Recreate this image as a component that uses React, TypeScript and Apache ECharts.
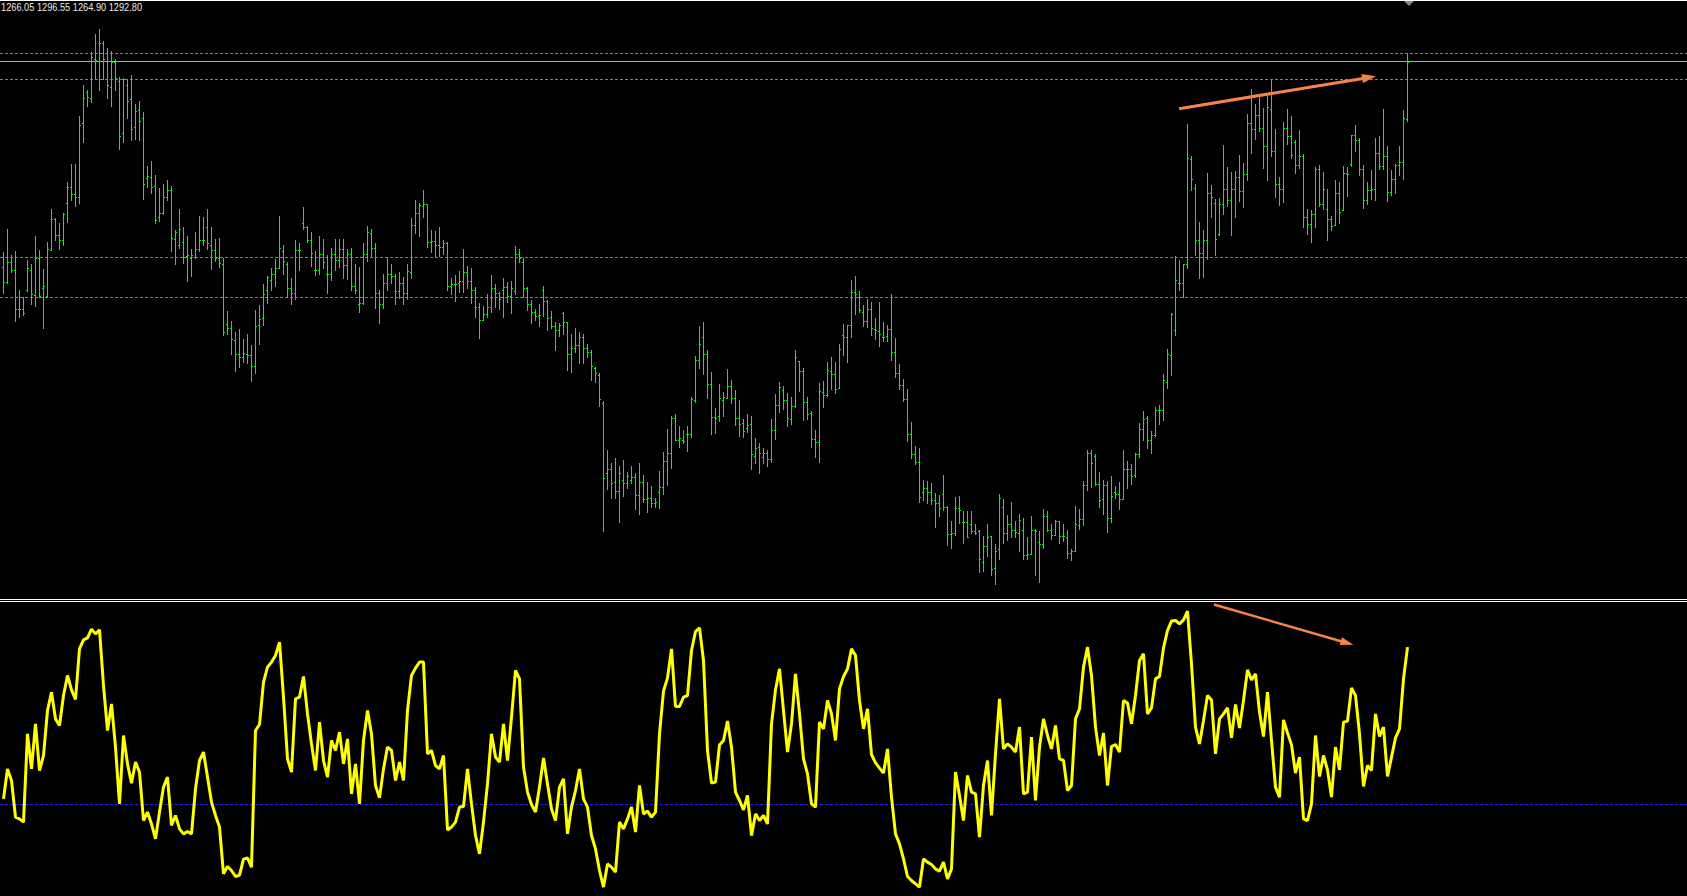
import React, { useEffect, useRef } from "react";
import * as echarts from "echarts";

const W = 1687;
const H = 896;

// ---- price bars (OHLC), one per bar index ----
const opens = [
  1196.3,1189.5,1198.6,1195.0,1176.6,1177.0,1185.6,1195.0,1183.3,1200.5,
  1186.4,1182.8,1204.4,1219.1,1211.3,1209.1,1226.3,1233.8,1230.9,1229.1,
  1263.8,1278.6,1275.9,1294.2,1293.1,1301.3,1297.0,1280.9,1292.4,1283.6,
  1259.1,1281.7,1275.0,1261.9,1270.0,1266.1,1238.0,1238.8,1234.5,1219.7,
  1221.6,1229.1,1232.5,1209.5,1207.0,1208.3,1201.7,1200.6,1201.3,1205.0,
  1209.2,1215.0,1206.9,1204.4,1200.9,1198.1,1169.7,1167.7,1162.2,1155.9,
  1154.1,1155.9,1155.3,1150.0,1169.1,1172.4,1185.9,1190.3,1193.4,1195.8,
  1203.9,1198.0,1186.4,1184.1,1204.4,1216.9,1215.3,1209.1,1195.0,1195.0,
  1202.8,1193.1,1193.1,1202.8,1199.7,1204.7,1197.2,1202.8,1187.8,1179.1,
  1179.4,1202.5,1212.5,1205.5,1184.5,1178.9,1188.8,1193.4,1192.4,1185.2,
  1189.1,1184.4,1194.2,1216.1,1221.6,1225.3,1225.9,1208.3,1208.8,1206.6,
  1205.9,1207.8,1187.5,1188.3,1188.8,1189.9,1194.1,1189.9,1185.6,1177.5,
  1171.6,1174.4,1177.5,1186.4,1184.1,1185.6,1186.9,1182.8,1185.0,1202.5,
  1198.6,1186.4,1179.1,1175.5,1173.6,1185.9,1180.6,1173.1,1168.9,1166.9,
  1174.7,1170.8,1155.5,1158.3,1159.9,1163.8,1158.3,1156.4,1148.9,1145.8,
  1132.8,1099.7,1101.6,1095.6,1091.4,1096.6,1095.0,1096.6,1098.1,1089.5,
  1095.8,1087.5,1088.4,1085.9,1090.8,1093.3,1105.5,1109.4,1125.5,1115.6,
  1115.6,1118.1,1118.4,1134.1,1152.8,1163.8,1155.5,1141.6,1126.3,1126.6,
  1134.1,1135.3,1140.6,1134.9,1125.9,1123.4,1120.8,1122.8,1107.8,1112.2,
  1107.2,1109.1,1106.3,1120.0,1131.7,1138.8,1134.1,1125.2,1131.3,1152.2,
  1147.5,1133.0,1128.1,1115.9,1114.5,1137.8,1136.3,1147.5,1146.3,1139.7,
  1164.5,1163.8,1169.1,1184.9,1182.5,1175.5,1171.1,1177.0,1167.2,1166.4,
  1163.8,1163.9,1167.2,1156.4,1146.6,1141.1,1134.4,1118.4,1108.8,1105.2,
  1091.1,1092.7,1090.8,1087.2,1085.9,1089.9,1084.1,1071.1,1071.9,1083.3,
  1077.0,1076.9,1075.9,1072.8,1072.8,1058.3,1065.8,1070.3,1055.2,1064.4,
  1084.1,1072.0,1076.2,1073.0,1072.0,1073.4,1061.3,1062.1,1073.0,1067.6,
  1066.5,1079.6,1073.4,1071.0,1077.3,1070.2,1069.9,1062.4,1063.4,1075.4,
  1078.2,1094.5,1109.3,1107.7,1094.9,1087.9,1094.1,1078.8,1091.0,1089.9,
  1087.9,1101.6,1102.0,1098.8,1109.0,1120.4,1125.9,1115.5,1117.9,1129.3,
  1129.6,1142.6,1155.4,1166.8,1189.1,1189.1,1197.7,1247.0,1233.7,1209.3,
  1203.0,1209.0,1231.2,1226.7,1212.0,1225.9,1232.9,1227.7,1233.2,1238.7,
  1232.1,1239.9,1264.2,1261.0,1267.6,1261.8,1253.2,1270.7,1250.9,1235.2,
  1232.9,1261.7,1257.9,1255.1,1244.2,1248.4,1219.9,1216.5,1221.5,1242.6,
  1225.9,1223.8,1219.2,1216.3,1231.2,1223.4,1240.6,1244.9,1258.2,1255.9,
  1242.3,1228.1,1232.7,1232.9,1250.1,1243.8,1248.4,1231.7,1237.9,1244.2,
  1245.7,1266.05,
];

const highs = [
  1203.6,1214.2,1202.0,1203.9,1185.6,1182.2,1199.7,1197.7,1210.9,1204.4,
  1195.5,1208.3,1223.6,1219.4,1217.2,1221.9,1236.1,1244.7,1244.7,1267.2,
  1282.0,1279.4,1297.2,1305.6,1308.0,1302.4,1298.9,1297.7,1293.9,1285.6,
  1284.9,1284.1,1286.4,1272.8,1274.2,1269.1,1243.9,1246.1,1239.5,1233.3,
  1235.3,1237.2,1234.5,1213.8,1223.6,1215.3,1210.9,1205.0,1212.8,1220.3,
  1220.0,1223.6,1215.3,1209.5,1209.9,1200.9,1175.9,1171.3,1165.9,1167.4,
  1162.7,1165.3,1160.0,1176.3,1178.6,1188.4,1192.2,1195.8,1200.2,1220.3,
  1206.7,1198.9,1191.4,1209.1,1207.5,1224.7,1215.9,1212.8,1204.1,1211.1,
  1209.7,1202.0,1205.2,1209.4,1209.4,1209.5,1205.0,1205.2,1198.1,1196.3,
  1207.8,1215.6,1214.5,1207.5,1185.6,1193.4,1200.6,1198.1,1193.0,1194.1,
  1191.9,1197.8,1219.4,1227.8,1226.3,1232.5,1225.9,1213.8,1213.4,1215.3,
  1209.1,1208.3,1191.4,1192.7,1194.5,1204.9,1196.9,1195.9,1187.2,1179.7,
  1178.1,1183.8,1192.5,1188.4,1184.9,1191.3,1189.5,1189.9,1206.3,1204.9,
  1200.9,1187.2,1180.9,1177.0,1178.9,1187.8,1180.9,1175.8,1170.5,1170.3,
  1175.5,1170.8,1165.3,1168.1,1166.1,1165.0,1160.6,1157.5,1149.7,1146.6,
  1133.6,1110.6,1104.4,1106.9,1103.1,1105.9,1100.2,1103.1,1099.7,1104.4,
  1098.9,1095.8,1093.8,1088.0,1100.8,1109.7,1120.6,1126.7,1127.4,1121.9,
  1120.0,1121.9,1135.6,1154.7,1168.9,1170.5,1157.5,1147.2,1130.3,1141.6,
  1137.7,1148.6,1143.4,1138.8,1134.1,1125.2,1127.8,1126.6,1116.1,1113.8,
  1111.4,1110.6,1125.0,1136.9,1142.5,1140.6,1137.2,1135.6,1157.5,1152.5,
  1149.2,1135.5,1128.8,1120.0,1141.9,1143.1,1152.0,1154.1,1151.9,1160.3,
  1169.7,1169.2,1190.3,1192.2,1185.2,1178.6,1181.4,1180.2,1172.5,1180.2,
  1170.5,1169.4,1183.9,1163.4,1150.9,1144.1,1139.2,1123.9,1112.7,1111.7,
  1096.6,1096.3,1095.2,1090.6,1089.5,1098.9,1084.4,1077.4,1088.6,1089.1,
  1082.2,1082.2,1081.9,1075.9,1073.4,1070.6,1075.8,1070.6,1066.6,1090.0,
  1087.8,1080.1,1086.2,1077.3,1080.5,1078.8,1069.9,1079.6,1073.8,1072.6,
  1082.9,1082.1,1076.2,1077.7,1077.3,1076.2,1073.0,1064.5,1084.3,1082.9,
  1096.0,1110.9,1110.5,1108.7,1100.4,1096.5,1096.0,1098.4,1094.0,1095.5,
  1110.5,1105.4,1104.0,1109.5,1123.5,1128.8,1126.5,1119.5,1130.9,1131.6,
  1146.2,1157.9,1175.1,1201.5,1199.6,1198.0,1263.4,1248.4,1235.2,1217.4,
  1214.0,1240.4,1234.8,1228.5,1228.8,1253.5,1243.4,1241.0,1241.3,1248.8,
  1245.4,1268.4,1279.8,1273.1,1277.7,1271.2,1277.3,1284.0,1261.3,1238.7,
  1264.5,1270.7,1267.1,1255.9,1260.6,1249.6,1223.8,1223.4,1243.4,1244.2,
  1240.9,1232.9,1220.2,1237.1,1236.3,1243.8,1243.4,1258.5,1262.9,1257.0,
  1244.2,1236.3,1241.8,1257.0,1257.9,1270.4,1253.2,1241.8,1244.9,1253.2,
  1269.9,1296.55,
];

const lows = [
  1184.1,1189.1,1194.2,1171.3,1173.1,1173.9,1185.3,1179.2,1178.1,1182.2,
  1168.1,1182.2,1204.4,1209.1,1205.0,1207.0,1217.7,1227.8,1225.2,1226.3,
  1255.2,1272.0,1273.9,1284.4,1279.5,1284.4,1275.8,1272.0,1279.5,1251.9,
  1255.2,1266.4,1255.9,1256.4,1255.9,1228.4,1234.1,1231.3,1216.9,1218.1,
  1221.1,1227.8,1204.1,1198.0,1205.5,1198.3,1190.0,1192.2,1200.9,1203.9,
  1207.0,1205.0,1195.6,1199.4,1196.6,1164.4,1165.3,1155.9,1147.8,1149.4,
  1152.0,1151.3,1143.1,1146.6,1160.2,1169.1,1179.7,1185.9,1187.7,1195.8,
  1193.0,1182.2,1178.9,1181.3,1195.3,1214.5,1208.0,1197.0,1192.7,1193.1,
  1195.9,1184.4,1190.3,1194.9,1196.6,1191.4,1190.8,1185.9,1184.4,1175.5,
  1179.1,1199.2,1201.6,1177.4,1170.3,1177.4,1185.6,1188.8,1179.2,1182.0,
  1179.2,1181.3,1191.4,1212.2,1210.9,1220.0,1205.9,1203.6,1201.6,1201.6,
  1202.8,1185.6,1183.8,1180.6,1184.9,1184.9,1186.4,1179.7,1173.1,1163.3,
  1171.6,1173.1,1175.5,1177.5,1176.7,1173.1,1180.2,1175.0,1183.8,1198.6,
  1182.2,1176.3,1170.3,1171.6,1168.9,1173.6,1167.0,1167.7,1157.5,1164.2,
  1165.0,1148.4,1147.4,1156.4,1151.6,1151.7,1154.4,1143.4,1142.7,1131.3,
  1072.8,1092.2,1088.0,1088.0,1077.0,1089.1,1092.7,1095.0,1083.0,1080.9,
  1086.4,1081.7,1083.8,1084.1,1083.6,1090.3,1094.4,1102.4,1115.3,1112.2,
  1114.2,1110.3,1116.9,1133.3,1149.2,1146.3,1135.2,1118.4,1118.8,1124.4,
  1126.7,1134.9,1132.8,1122.5,1117.4,1116.9,1119.2,1101.9,1104.4,1099.7,
  1104.4,1103.4,1104.9,1115.9,1128.3,1130.0,1122.0,1122.7,1130.9,1138.3,
  1124.7,1125.2,1112.2,1107.5,1105.2,1130.9,1136.1,1139.5,1137.2,1139.7,
  1155.3,1152.0,1163.8,1174.5,1175.5,1168.9,1168.4,1164.4,1162.7,1159.5,
  1162.0,1161.9,1153.0,1145.0,1139.5,1133.6,1114.9,1106.9,1104.1,1086.3,
  1087.2,1085.9,1085.6,1074.7,1079.7,1082.8,1066.1,1064.9,1070.8,1076.6,
  1067.2,1069.7,1072.0,1071.3,1053.6,1054.1,1060.9,1051.9,1047.7,1059.4,
  1066.9,1068.7,1069.9,1069.9,1063.4,1059.8,1059.8,1062.1,1052.0,1049.0,
  1064.8,1072.7,1068.8,1071.0,1067.1,1068.0,1060.1,1059.0,1063.4,1073.8,
  1075.4,1092.1,1093.4,1094.5,1084.0,1080.9,1072.3,1077.0,1088.4,1083.2,
  1087.9,1092.9,1094.9,1098.0,1107.4,1115.2,1111.6,1109.3,1117.4,1123.0,
  1124.6,1139.8,1145.7,1164.5,1185.5,1182.4,1196.2,1232.4,1202.0,1191.3,
  1192.0,1200.4,1219.9,1202.0,1211.3,1221.5,1224.9,1211.3,1219.9,1227.4,
  1224.6,1237.1,1249.9,1256.5,1260.2,1243.1,1237.1,1248.5,1229.3,1225.6,
  1227.0,1254.0,1247.6,1240.6,1243.1,1215.2,1212.1,1208.2,1215.2,1224.9,
  1223.8,1209.3,1213.7,1216.3,1217.1,1223.4,1229.8,1243.8,1250.9,1239.8,
  1224.3,1226.2,1228.5,1228.1,1242.6,1242.6,1227.4,1230.4,1231.2,1239.5,
  1237.7,1264.90,
];

const closes = [
  1189.5,1198.6,1195.0,1176.6,1177.0,1174.7,1195.8,1183.8,1200.5,1183.0,
  1187.8,1205.0,1218.8,1211.3,1209.1,1221.3,1233.8,1230.9,1229.1,1263.0,
  1275.5,1276.3,1294.7,1293.4,1301.3,1293.8,1281.6,1292.4,1284.9,1257.7,
  1284.4,1274.2,1261.1,1269.7,1265.0,1235.6,1239.2,1234.1,1218.4,1222.0,
  1229.1,1232.5,1209.9,1212.7,1214.1,1201.3,1202.0,1202.0,1205.0,1209.2,
  1209.1,1207.7,1204.4,1200.5,1198.4,1165.9,1167.7,1162.5,1155.9,1154.1,
  1156.3,1155.3,1150.3,1168.8,1172.2,1183.8,1191.9,1193.4,1195.8,1205.2,
  1199.4,1186.4,1184.1,1204.4,1204.4,1215.3,1209.1,1203.1,1195.0,1202.8,
  1198.9,1193.1,1202.8,1199.7,1204.7,1197.4,1202.8,1187.5,1185.6,1179.4,
  1202.5,1212.7,1205.2,1184.5,1178.9,1188.8,1193.4,1192.4,1185.2,1189.1,
  1184.4,1194.5,1216.1,1221.6,1225.5,1225.9,1208.3,1208.8,1206.6,1205.9,
  1207.8,1187.5,1188.3,1188.4,1189.9,1194.1,1189.9,1185.6,1177.5,1171.6,
  1174.4,1177.5,1186.4,1184.1,1181.6,1186.9,1182.8,1186.6,1202.5,1200.5,
  1186.4,1179.1,1175.5,1173.6,1173.9,1180.6,1172.4,1168.9,1166.9,1169.2,
  1170.8,1155.5,1158.3,1159.9,1163.8,1158.3,1156.4,1150.0,1146.6,1134.4,
  1097.4,1101.6,1095.0,1091.4,1099.7,1095.0,1098.4,1098.1,1089.5,1095.8,
  1087.5,1088.4,1085.9,1086.1,1093.3,1105.5,1109.4,1125.5,1115.6,1116.1,
  1115.0,1118.4,1134.5,1152.8,1160.2,1155.6,1141.6,1126.3,1125.5,1134.9,
  1135.6,1140.9,1134.9,1125.9,1122.8,1119.7,1122.4,1108.8,1111.4,1109.1,
  1109.1,1106.3,1120.0,1132.0,1140.3,1134.1,1125.5,1131.3,1154.4,1147.5,
  1133.0,1127.8,1115.9,1114.5,1138.4,1136.3,1148.1,1146.3,1139.5,1158.1,
  1163.8,1169.1,1184.9,1183.8,1176.3,1171.1,1176.6,1167.7,1166.9,1165.0,
  1163.8,1167.2,1156.4,1146.6,1141.1,1134.4,1118.4,1108.8,1104.9,1088.8,
  1092.7,1090.8,1087.2,1085.9,1083.3,1084.1,1071.1,1071.6,1083.3,1082.8,
  1077.0,1070.0,1072.7,1071.9,1059.4,1065.8,1070.0,1054.7,1063.3,1088.0,
  1071.9,1075.9,1073.4,1072.3,1078.0,1061.3,1062.1,1073.4,1072.7,1066.8,
  1079.6,1073.4,1071.0,1077.4,1070.2,1070.2,1062.4,1063.2,1075.9,1078.5,
  1094.5,1109.3,1104.8,1094.9,1087.4,1094.1,1078.8,1089.0,1090.2,1087.9,
  1101.6,1102.0,1098.4,1109.0,1120.7,1125.4,1115.5,1117.9,1129.3,1129.6,
  1143.4,1155.9,1174.6,1190.2,1189.1,1197.7,1247.7,1237.9,1209.3,1203.0,
  1209.0,1231.0,1229.3,1209.8,1225.9,1233.2,1227.7,1233.2,1238.7,1232.1,
  1239.9,1264.2,1261.0,1267.6,1261.8,1253.2,1271.5,1250.9,1235.2,1232.9,
  1261.7,1257.9,1248.8,1244.2,1248.5,1219.9,1216.5,1221.5,1242.6,1225.9,
  1232.9,1219.2,1215.6,1231.2,1222.3,1240.6,1239.9,1258.2,1255.9,1242.3,
  1228.1,1232.7,1232.9,1250.1,1243.8,1248.4,1231.7,1237.9,1244.2,1245.7,
  1266.3,1292.80,
];

// ---- oscillator (lower panel), one value per bar ----
const osc = [
  2.8,17.8,12.0,-6.3,-7.2,-8.8,35.3,17.8,40.3,17.0,
  24.5,47.0,56.2,42.8,39.5,54.5,64.5,57.3,52.5,77.8,
  82.3,83.3,87.7,85.3,87.3,59.5,37.0,50.3,28.7,0.3,
  34.5,20.3,10.7,21.2,16.2,-8.0,-3.8,-9.7,-17.2,-3.8,
  8.7,13.7,-10.5,-5.5,-12.2,-14.7,-13.5,-14.7,7.8,22.0,
  26.2,13.7,1.2,-5.5,-11.3,-34.7,-31.0,-33.0,-36.0,-35.3,
  -27.3,-26.7,-31.3,37.0,40.0,61.2,68.7,71.2,74.5,81.2,
  53.7,22.8,16.2,52.8,53.7,64.0,45.3,30.3,17.0,41.2,
  22.0,13.7,32.0,27.0,36.2,20.3,32.8,5.3,20.3,0.3,
  32.0,47.0,35.3,9.5,3.3,17.8,28.7,27.0,12.0,21.2,
  12.0,47.0,64.5,68.2,71.2,71.2,25.3,27.0,19.5,17.8,
  24.5,-12.7,-11.3,-8.8,-1.3,-1.0,17.8,0.3,-15.5,-24.7,
  -8.8,10.3,35.3,23.7,21.2,40.3,22.0,43.7,67.0,62.8,
  18.7,6.2,0.0,-3.8,8.7,23.3,10.3,-2.2,-8.0,8.7,
  12.8,-14.7,-1.3,7.0,17.8,2.8,-1.3,-15.5,-22.2,-33.0,
  -41.3,-29.7,-31.3,-33.8,-8.8,-12.2,-7.2,-1.3,-13.8,9.5,
  -4.7,-3.3,-6.3,-3.8,35.3,56.7,63.3,77.8,49.0,49.0,
  53.7,54.5,77.0,86.5,88.3,72.0,27.0,10.7,11.2,29.8,
  32.0,41.7,28.7,6.2,2.0,-2.7,4.5,-15.5,-4.7,-8.0,
  -5.5,-9.7,40.3,57.3,67.8,47.0,26.2,40.3,65.3,45.3,
  22.8,15.3,0.3,-1.3,41.2,37.8,52.0,45.3,32.0,57.8,
  64.0,67.8,77.8,74.5,52.0,37.8,47.8,25.0,20.8,18.2,
  15.7,27.8,3.7,-14.7,-19.7,-27.2,-36.0,-38.0,-39.7,-41.3,
  -27.2,-28.8,-30.0,-32.2,-33.3,-28.8,-37.2,-32.2,16.2,4.5,
  -8.0,14.5,6.2,5.3,-16.3,9.5,22.0,-5.5,25.3,52.8,
  27.8,30.3,28.7,26.2,38.7,5.3,6.2,33.7,2.0,28.7,
  42.8,34.5,27.8,39.5,22.8,22.0,7.0,9.5,42.8,47.8,
  68.7,78.7,64.5,38.7,24.5,35.7,9.5,29.0,30.0,26.2,
  52.0,50.7,40.3,54.5,72.0,75.3,45.3,48.3,62.8,64.0,
  78.3,87.0,91.7,92.0,90.3,92.3,96.7,70.3,38.7,30.3,
  42.0,54.5,52.3,25.3,42.8,45.3,48.3,33.3,50.0,38.2,
  52.0,67.3,62.3,65.3,46.2,34.0,56.2,32.0,8.7,3.7,
  42.3,35.8,29.8,15.7,23.7,-7.2,-8.0,0.3,34.5,14.0,
  24.5,17.3,3.7,28.7,17.3,41.2,41.7,58.3,54.5,35.3,
  9.0,19.5,17.0,45.3,34.0,38.7,14.0,23.7,33.3,37.8,
  62.8,78.7,
];

// ---- horizontal levels and annotation arrows ----
const dashedLevels = [1296.55, 1284.36, 1200.92, 1182.17];
const bidLevel = 1292.8;
const oscLevel = 0;
const priceArrow = [[293.9, 1270.68], [341.4, 1285.35]];
const oscArrow = [[302.6, 100], [335.9, 80.75]];

const GREEN = "#1ee61e";
const ORANGE = "#f8834a";

function buildOption() {
  const n = closes.length;
  const ohlc = closes.map((c, i) => [i, opens[i], highs[i], lows[i], c]);
  const oscData = osc.map((v, i) => [i, v]);
  const header = `${opens[n - 1].toFixed(2)} ${highs[n - 1].toFixed(2)} ${lows[n - 1].toFixed(2)} ${closes[n - 1].toFixed(2)}`;

  const renderItem = (params: any, api: any) => {
    const i = api.value(0);
    const o = api.coord([i, api.value(1)]);
    const h = api.coord([i, api.value(2)]);
    const l = api.coord([i, api.value(3)]);
    const c = api.coord([i, api.value(4)]);
    const x = Math.floor(h[0]);
    const yT = Math.round(h[1]);
    const yB = Math.round(l[1]);
    return {
      type: "group",
      children: [
        { type: "rect", shape: { x, y: yT, width: 1, height: Math.max(1, yB - yT + 1) }, style: { fill: GREEN } },
        { type: "rect", shape: { x: x - 1, y: Math.round(o[1]), width: 1, height: 1 }, style: { fill: GREEN } },
        { type: "rect", shape: { x: x + 1, y: Math.round(c[1]), width: 1, height: 1 }, style: { fill: GREEN } },
      ],
    };
  };

  const dashStyle = { color: "#808080", type: [3, 2], width: 1 };

  return {
    animation: false,
    backgroundColor: "#000000",
    grid: [
      { left: 0, right: 0, top: 0, height: 597, show: false },
      { left: 0, right: 0, top: 602, height: 294, show: false },
    ],
    xAxis: [0, 1].map((g) => ({ type: "value", gridIndex: g, min: -0.875, max: 420.875, show: false })),
    yAxis: [
      { type: "value", gridIndex: 0, min: 1041.79, max: 1321.63, show: false },
      { type: "value", gridIndex: 1, min: -45.75, max: 101.25, show: false },
    ],
    series: [
      {
        type: "custom",
        xAxisIndex: 0,
        yAxisIndex: 0,
        data: ohlc,
        encode: { x: 0, y: [1, 2, 3, 4] },
        renderItem,
        silent: true,
        clip: false,
        z: 3,
        markLine: {
          silent: true,
          animation: false,
          symbol: ["none", "none"],
          label: { show: false },
          z: 2,
          data: [
            ...dashedLevels.map((v) => ({ yAxis: v, lineStyle: dashStyle })),
            { yAxis: bidLevel, lineStyle: { color: "#a6a6a6", type: "solid", width: 1 } },
            [
              { coord: priceArrow[0], symbol: "none", lineStyle: { color: ORANGE, width: 3, type: "solid" } },
              { coord: priceArrow[1], symbol: "triangle", symbolSize: [9, 14] },
            ],
          ],
        },
      },
      {
        type: "line",
        xAxisIndex: 1,
        yAxisIndex: 1,
        data: oscData,
        showSymbol: false,
        symbol: "none",
        silent: true,
        lineStyle: { color: "#ffff00", width: 3 },
        z: 3,
        markLine: {
          silent: true,
          animation: false,
          symbol: ["none", "none"],
          label: { show: false },
          z: 2,
          data: [
            { yAxis: oscLevel, lineStyle: { color: "#1e1eff", type: [3, 2], width: 1 } },
            [
              { coord: oscArrow[0], symbol: "none", lineStyle: { color: ORANGE, width: 2.5, type: "solid" } },
              { coord: oscArrow[1], symbol: "triangle", symbolSize: [8, 13] },
            ],
          ],
        },
      },
    ],
    graphic: [
      { type: "line", shape: { x1: 0, y1: 0.5, x2: W, y2: 0.5 }, style: { stroke: "#ffffff", lineWidth: 1 }, z: 50 },
      { type: "line", shape: { x1: 0, y1: 599.5, x2: W, y2: 599.5 }, style: { stroke: "#ffffff", lineWidth: 1 }, z: 50 },
      { type: "line", shape: { x1: 0, y1: 601.5, x2: W, y2: 601.5 }, style: { stroke: "#ffffff", lineWidth: 1 }, z: 50 },
      {
        type: "polygon",
        shape: { points: [[1404, 1], [1414, 1], [1409, 6]] },
        style: { fill: "#7d8a96" },
        z: 50,
      },
      {
        type: "text",
        x: 1,
        y: 2,
        scaleX: 0.84,
        z: 60,
        style: {
          text: header,
          fill: "#e8e8e8",
          font: '11px "Liberation Sans", Arial, sans-serif',
          verticalAlign: "top",
          align: "left",
        },
      },
    ],
  };
}

export default function App() {
  const ref = useRef<HTMLDivElement>(null);
  useEffect(() => {
    if (!ref.current) return;
    const chart = echarts.init(ref.current, null, { renderer: "svg", width: W, height: H });
    chart.setOption(buildOption() as any);
    return () => chart.dispose();
  }, []);
  return (
    <div
      ref={ref}
      style={{ position: "fixed", left: 0, top: 0, width: W, height: H, background: "#000" }}
    />
  );
}
